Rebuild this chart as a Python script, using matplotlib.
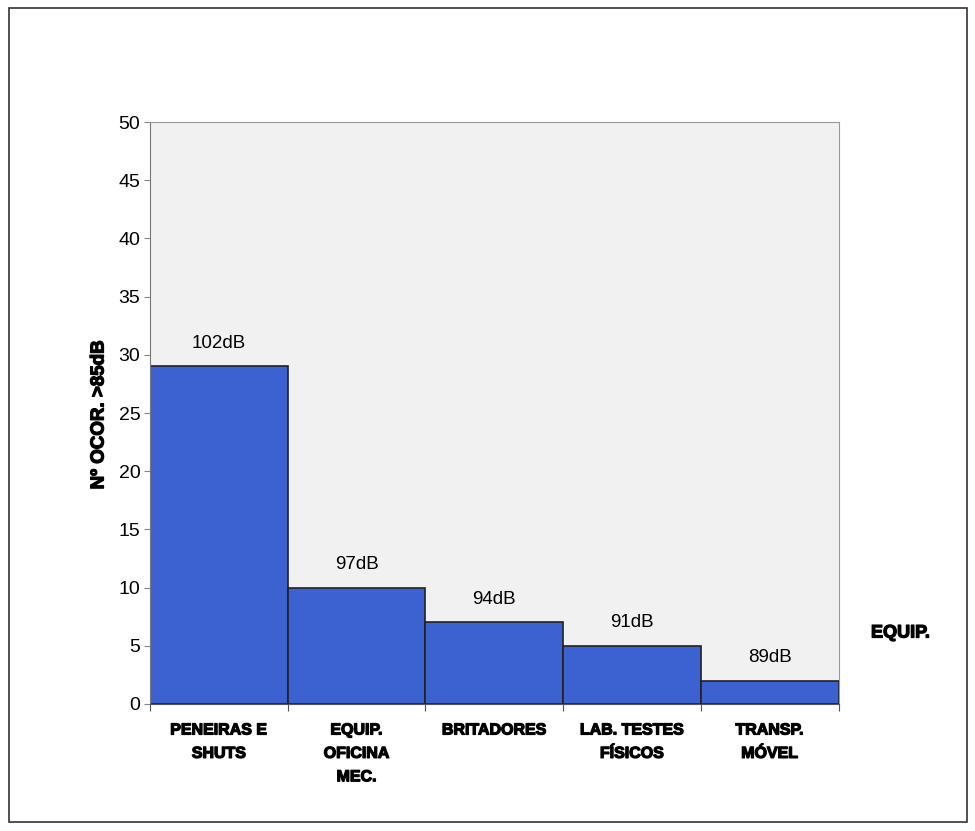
import matplotlib
matplotlib.use("Agg")
import matplotlib.pyplot as plt
import matplotlib.patheffects as pe
from matplotlib.patches import Rectangle
import numpy as np

plt.rcParams['font.family'] = ['Liberation Sans', 'DejaVu Sans']

categories = ["PENEIRAS E\nSHUTS", "EQUIP.\nOFICINA\nMEC.", "BRITADORES",
              "LAB. TESTES\nFÍSICOS", "TRANSP.\nMÓVEL"]
counts = [29, 10, 7, 5, 2]
levels = ["102dB", "97dB", "94dB", "91dB", "89dB"]

heavy = [pe.withStroke(linewidth=0.9, foreground='black')]

fig = plt.figure(figsize=(9.75, 8.31), dpi=100)
ax = fig.add_axes([0.154, 0.153, 0.706, 0.700])
ax.set_facecolor('#f1f1f1')

x = np.arange(len(counts))
ax.bar(x, counts, width=1.0, color='#3b62d0', edgecolor='#222222', linewidth=1.2)

for xi, c, lab in zip(x, counts, levels):
    ax.text(xi, c + 2.0, lab, ha='center', va='center', fontsize=13.5)

ax.set_xlim(-0.5, len(counts) - 0.5)
ax.set_ylim(0, 50)
ax.set_yticks(np.arange(0, 51, 5))
ax.tick_params(axis='y', labelsize=14, length=4, direction='out', color='#888888', pad=3)

# ticks at bar boundaries, category names in between
ax.set_xticks(np.arange(-0.5, len(counts)))
ax.set_xticklabels([])
ax.tick_params(axis='x', length=5, color='#555555')
for xi, cat in zip(x, categories):
    ax.text(xi, -1.6, cat, ha='center', va='top', fontsize=11.5,
            fontweight='bold', linespacing=1.7, path_effects=heavy)

for s in ['top', 'right']:
    ax.spines[s].set_color('#999999')
    ax.spines[s].set_linewidth(0.8)
ax.spines['left'].set_color('#777777')
ax.spines['bottom'].set_color('#555555')

fig.text(99 / 975, 1 - 415 / 831, "Nº OCOR. >85dB", rotation=90, fontsize=13.5,
         fontweight='bold', ha='center', va='center', path_effects=heavy)
fig.text(871 / 975, 1 - 633 / 831, "EQUIP.", fontsize=13, fontweight='bold',
         ha='left', va='center', path_effects=heavy)

fig.patches.append(Rectangle((0.009, 0.011), 0.983, 0.979, transform=fig.transFigure,
                             fill=False, edgecolor='#333333', linewidth=1.2))

plt.savefig('out.png', dpi=100)
